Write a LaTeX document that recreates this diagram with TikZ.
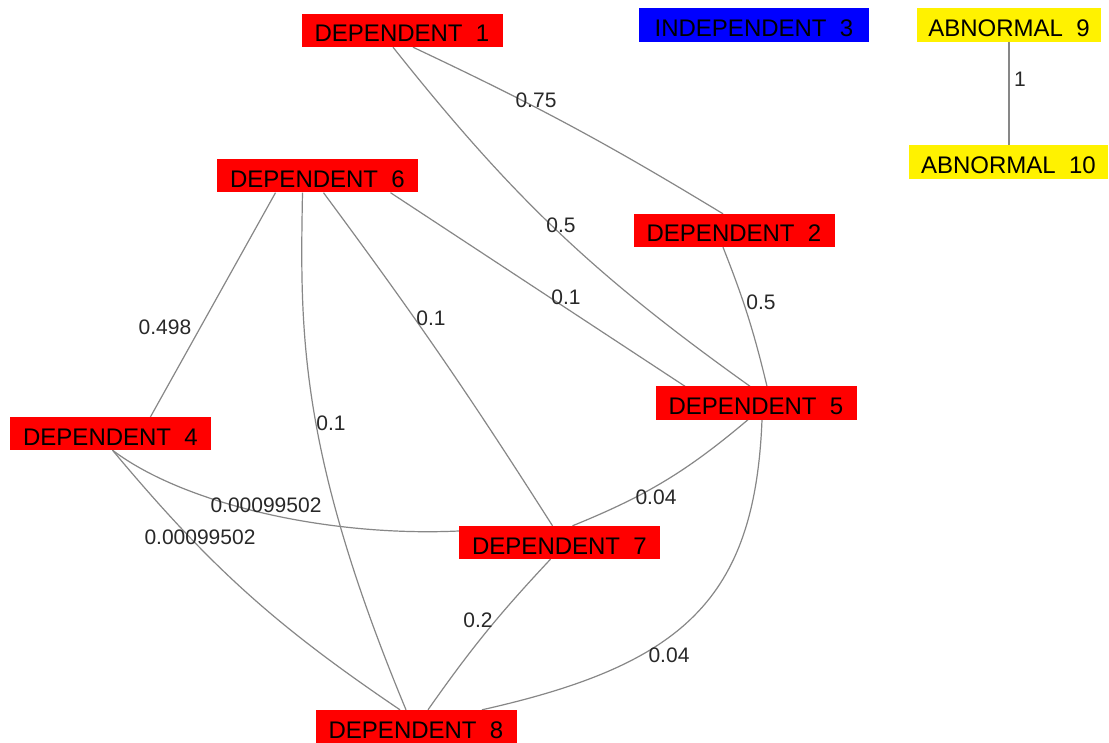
\documentclass[tikz,border=0pt]{standalone}
\usepackage{fontspec}
\setmainfont{Liberation Sans}
\usetikzlibrary{backgrounds}
\definecolor{wirecol}{RGB}{135,135,135}
\definecolor{labelcol}{RGB}{40,40,40}
\begin{document}
\begin{tikzpicture}[x=1pt,y=1pt,
  box/.style={rectangle, inner xsep=0pt, inner ysep=0pt,
    minimum width=201pt, minimum height=33pt,
    text height=23pt, text depth=0pt,
    font=\fontsize{24}{24}\selectfont, text=black},
  dep/.style={box, fill=red},
  indep/.style={box, fill=blue, minimum width=230pt, minimum height=34pt},
  abn/.style={box, fill=yellow, minimum height=34pt},
  wire/.style={draw=wirecol, line width=1.2pt},
  wlabel/.style={font=\fontsize{21}{21}\selectfont, text=labelcol, inner sep=0pt}
]
\useasboundingbox (0,0) rectangle (1109,-743);

% vertices
\node[dep] (d1) at (402,-30.5) {DEPENDENT\ \ 1};
\node[indep] (d3) at (754,-25) {INDEPENDENT\ \ 3};
\node[abn, minimum width=184pt] (a9) at (1009,-25) {ABNORMAL\ \ 9};
\node[abn, minimum width=199pt] (a10) at (1008.5,-162) {ABNORMAL\ \ 10};
\node[dep] (d6) at (317.5,-176) {DEPENDENT\ \ 6};
\node[dep] (d2) at (734,-230.5) {DEPENDENT\ \ 2};
\node[dep] (d5) at (756,-403) {DEPENDENT\ \ 5};
\node[dep] (d4) at (110.5,-433.5) {DEPENDENT\ \ 4};
\node[dep] (d7) at (559.5,-542.5) {DEPENDENT\ \ 7};
\node[dep] (d8) at (416,-726.5) {DEPENDENT\ \ 8};

% edges, drawn beneath the vertex boxes
\begin{scope}[on background layer]
\fill[white] (0,0) rectangle (1109,-743);
\draw[wire] ([xshift=11pt]d1.south) to[bend left=3] ([xshift=-11pt]d2.north);
\draw[wire] ([xshift=-9pt]d1.south) to[bend right=8] ([xshift=-6pt]d5.north);
\draw[wire] ([xshift=73pt]d6.south) -- ([xshift=-71pt]d5.north);
\draw[wire] ([xshift=-11pt]d2.south) to[bend left=4] ([xshift=11pt]d5.north);
\draw[wire] ([xshift=-42pt]d6.south) -- ([xshift=40pt]d4.north);
\draw[wire] ([xshift=-15pt]d6.south) .. controls (300,-330) and (298,-450) .. ([xshift=-10pt]d8.north);
\draw[wire] ([xshift=6pt]d6.south) to[bend left=2] ([xshift=-7pt]d7.north);
\draw[wire] ([xshift=2pt]d4.south) .. controls (185,-505) and (330,-537) .. ([yshift=11.5pt]d7.west);
\draw[wire] ([xshift=2pt]d4.south) to[bend right=8] ([xshift=-16pt]d8.north);
\draw[wire] ([xshift=-8pt]d5.south) to[bend left=9] ([xshift=13pt]d7.north);
\draw[wire] ([xshift=6pt]d5.south) .. controls (755,-600) and (682,-665) .. ([xshift=66pt]d8.north);
\draw[wire] ([xshift=-9pt]d7.south) to[bend right=4] ([xshift=12pt]d8.north);
\draw[wire] (a9.south) -- (a9.south |- a10.north);
\end{scope}

% edge weights
\node[wlabel] (w12) at (536,-100) {0.75};
\node[wlabel] (w15) at (561,-225) {0.5};
\node[wlabel] (w65) at (566,-297) {0.1};
\node[wlabel] (w25) at (761,-302) {0.5};
\node[wlabel] (w64) at (165,-327) {0.498};
\node[wlabel] (w67) at (431,-318) {0.1};
\node[wlabel] (w68) at (331,-423) {0.1};
\node[wlabel] (w47) at (266,-505) {0.00099502};
\node[wlabel] (w48) at (200,-537) {0.00099502};
\node[wlabel] (w57) at (656,-497) {0.04};
\node[wlabel] (w58) at (669,-655) {0.04};
\node[wlabel] (w78) at (478,-620) {0.2};
\node[wlabel] (w910) at (1020,-79) {1};
\end{tikzpicture}
\end{document}
